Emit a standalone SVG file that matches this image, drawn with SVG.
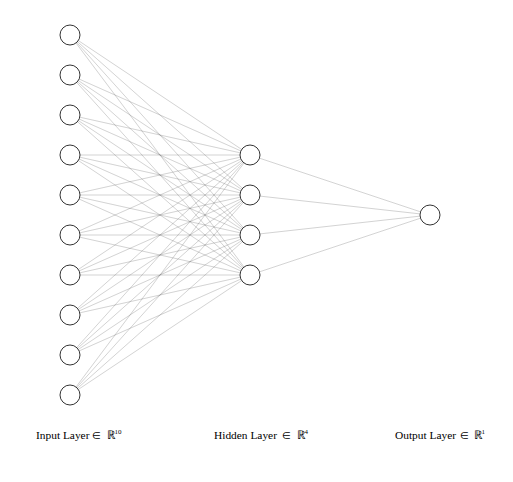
<svg xmlns="http://www.w3.org/2000/svg" width="513" height="482" viewBox="0 0 513 482">
<style>
.link{stroke:#505050;stroke-width:0.5;stroke-opacity:0.5;fill:none}
.node{fill:#ffffff;stroke:#333333;stroke-width:1}
.lbl{font-family:"Liberation Serif","Times New Roman",serif;font-size:12px;fill:#000}
.w{font-size:11.4px}
.el{font-size:10px}
.sup{font-size:7px}
</style>
<rect width="513" height="482" fill="#ffffff"/>
<g id="connectors">
<path class="link" d="M70 35L250 155M70 35L250 195M70 35L250 235M70 35L250 275
M70 75L250 155M70 75L250 195M70 75L250 235M70 75L250 275
M70 115L250 155M70 115L250 195M70 115L250 235M70 115L250 275
M70 155L250 155M70 155L250 195M70 155L250 235M70 155L250 275
M70 195L250 155M70 195L250 195M70 195L250 235M70 195L250 275
M70 235L250 155M70 235L250 195M70 235L250 235M70 235L250 275
M70 275L250 155M70 275L250 195M70 275L250 235M70 275L250 275
M70 315L250 155M70 315L250 195M70 315L250 235M70 315L250 275
M70 355L250 155M70 355L250 195M70 355L250 235M70 355L250 275
M70 395L250 155M70 395L250 195M70 395L250 235M70 395L250 275
M250 155L430 215M250 195L430 215M250 235L430 215M250 275L430 215"/>
</g>
<g id="input-layer">
<circle id="in1" class="node" cx="70" cy="35" r="10"/>
<circle id="in2" class="node" cx="70" cy="75" r="10"/>
<circle id="in3" class="node" cx="70" cy="115" r="10"/>
<circle id="in4" class="node" cx="70" cy="155" r="10"/>
<circle id="in5" class="node" cx="70" cy="195" r="10"/>
<circle id="in6" class="node" cx="70" cy="235" r="10"/>
<circle id="in7" class="node" cx="70" cy="275" r="10"/>
<circle id="in8" class="node" cx="70" cy="315" r="10"/>
<circle id="in9" class="node" cx="70" cy="355" r="10"/>
<circle id="in10" class="node" cx="70" cy="395" r="10"/>
</g>
<g id="hidden-layer">
<circle id="h1" class="node" cx="250" cy="155" r="10"/>
<circle id="h2" class="node" cx="250" cy="195" r="10"/>
<circle id="h3" class="node" cx="250" cy="235" r="10"/>
<circle id="h4" class="node" cx="250" cy="275" r="10"/>
</g>
<g id="output-layer">
<circle id="out1" class="node" cx="430" cy="215" r="10"/>
</g>
<g id="labels">
<text class="lbl" y="439"><tspan class="w" x="36">Input Layer</tspan><tspan class="el" x="92">∈</tspan><tspan x="106.5">ℝ</tspan><tspan class="sup" x="114.5" y="434">10</tspan></text>
<text class="lbl" y="439"><tspan class="w" x="214">Hidden Layer</tspan><tspan class="el" x="282">∈</tspan><tspan x="296.5">ℝ</tspan><tspan class="sup" x="304.5" y="434">4</tspan></text>
<text class="lbl" y="439"><tspan class="w" x="395">Output Layer</tspan><tspan class="el" x="460">∈</tspan><tspan x="473.5">ℝ</tspan><tspan class="sup" x="481.5" y="434">1</tspan></text>
</g>
</svg>
